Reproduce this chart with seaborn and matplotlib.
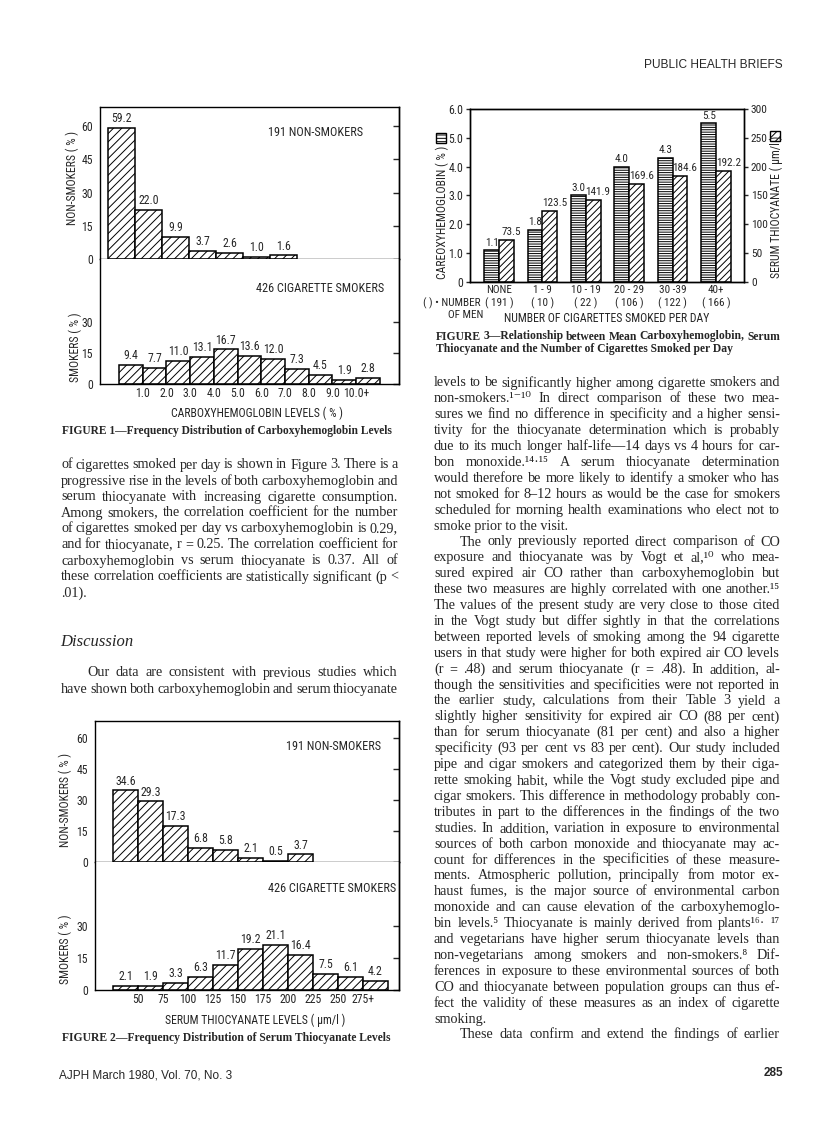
"""
Page 285 of AJPH, March 1980 - Figures 1-3 (COHb and SCN in smokers)
"""

import numpy as np
import pandas as pd
import matplotlib
matplotlib.use('Agg')
import matplotlib.pyplot as plt
from matplotlib import font_manager as fm
from matplotlib.patches import Rectangle
import seaborn as sns

# Figure 1 - carboxyhemoglobin levels (%)
co_bins_ns = ['<1', '1-2', '2-3', '3-4', '4-5', '5-6', '6+']
co_pct_ns = [59.2, 22.0, 9.9, 3.7, 2.6, 1.0, 1.6]
co_edges_ns = ['1.0', '2.0', '3.0', '4.0', '5.0', '6.0+']

co_bins_sm = ['<1', '1-2', '2-3', '3-4', '4-5', '5-6', '6-7', '7-8', '8-9', '9-10', '10+']
co_pct_sm = [9.4, 7.7, 11.0, 13.1, 16.7, 13.6, 12.0, 7.3, 4.5, 1.9, 2.8]
co_edges_sm = ['1.0', '2.0', '3.0', '4.0', '5.0', '6.0', '7.0', '8.0', '9.0', '10.0+']

# Figure 2 - serum thiocyanate levels (um/l)
scn_bins_ns = ['<50', '50-75', '75-100', '100-125', '125-150', '150-175', '175-200', '200-225']
scn_pct_ns = [34.6, 29.3, 17.3, 6.8, 5.8, 2.1, 0.5, 3.7]

scn_bins_sm = ['<50', '50-75', '75-100', '100-125', '125-150', '150-175', '175-200',
               '200-225', '225-250', '250-275', '275+']
scn_pct_sm = [2.1, 1.9, 3.3, 6.3, 11.7, 19.2, 21.1, 16.4, 7.5, 6.1, 4.2]
scn_edges = ['50', '75', '100', '125', '150', '175', '200', '225', '250', '275+']

# Figure 3 - means by cigarettes per day
cig_groups = ['NONE', '1-9', '10-19', '20-29', '30-39', '40+']
cig_ticklabels = ['NONE\n( 191 )', '1 - 9\n( 10 )', '10 - 19\n( 22 )',
                  '20 - 29\n( 106 )', '30 -39\n( 122 )', '40+\n( 166 )']
mean_cohb = [1.1, 1.8, 3.0, 4.0, 4.3, 5.5]
mean_scn = [73.5, 123.5, 141.9, 169.6, 184.6, 192.2]

# body text
left_par1 = [
    "of cigarettes smoked per day is shown in Figure 3. There is a",
    "progressive rise in the levels of both carboxyhemoglobin and",
    "serum thiocyanate with increasing cigarette consumption.",
    "Among smokers, the correlation coefficient for the number",
    "of cigarettes smoked per day vs carboxyhemoglobin is 0.29,",
    "and for thiocyanate, r = 0.25. The correlation coefficient for",
    "carboxyhemoglobin vs serum thiocyanate is 0.37. All of",
    "these correlation coefficients are statistically significant (p <",
    ".01).",
]
left_par2 = [
    "Our data are consistent with previous studies which",
    "have shown both carboxyhemoglobin and serum thiocyanate",
]
right_par1 = [
    "levels to be significantly higher among cigarette smokers and",
    "non-smokers.¹⁻¹⁰ In direct comparison of these two mea-",
    "sures we find no difference in specificity and a higher sensi-",
    "tivity for the thiocyanate determination which is probably",
    "due to its much longer half-life—14 days vs 4 hours for car-",
    "bon monoxide.¹⁴·¹⁵ A serum thiocyanate determination",
    "would therefore be more likely to identify a smoker who has",
    "not smoked for 8–12 hours as would be the case for smokers",
    "scheduled for morning health examinations who elect not to",
    "smoke prior to the visit.",
]
right_par2 = [
    "The only previously reported direct comparison of CO",
    "exposure and thiocyanate was by Vogt et al,¹⁰ who mea-",
    "sured expired air CO rather than carboxyhemoglobin but",
    "these two measures are highly correlated with one another.¹⁵",
    "The values of the present study are very close to those cited",
    "in the Vogt study but differ sightly in that the correlations",
    "between reported levels of smoking among the 94 cigarette",
    "users in that study were higher for both expired air CO levels",
    "(r = .48) and serum thiocyanate (r = .48). In addition, al-",
    "though the sensitivities and specificities were not reported in",
    "the earlier study, calculations from their Table 3 yield a",
    "slightly higher sensitivity for expired air CO (88 per cent)",
    "than for serum thiocyanate (81 per cent) and also a higher",
    "specificity (93 per cent vs 83 per cent). Our study included",
    "pipe and cigar smokers and categorized them by their ciga-",
    "rette smoking habit, while the Vogt study excluded pipe and",
    "cigar smokers. This difference in methodology probably con-",
    "tributes in part to the differences in the findings of the two",
    "studies. In addition, variation in exposure to environmental",
    "sources of both carbon monoxide and thiocyanate may ac-",
    "count for differences in the specificities of these measure-",
    "ments. Atmospheric pollution, principally from motor ex-",
    "haust fumes, is the major source of environmental carbon",
    "monoxide and can cause elevation of the carboxyhemoglo-",
    "bin levels.⁵ Thiocyanate is mainly derived from plants¹⁶· ¹⁷",
    "and vegetarians have higher serum thiocyanate levels than",
    "non-vegetarians among smokers and non-smokers.⁸ Dif-",
    "ferences in exposure to these environmental sources of both",
    "CO and thiocyanate between population groups can thus ef-",
    "fect the validity of these measures as an index of cigarette",
    "smoking.",
]
right_par3 = [
    "These data confirm and extend the findings of earlier",
]


def pick_narrow_font():
    # the figures use a condensed sans; take whatever narrow face is installed
    fonts = fm.fontManager.ttflist
    for name in ['Liberation Sans Narrow', 'Roboto Condensed', 'Open Sans Condensed',
                 'Noto Sans Condensed', 'Arial Narrow']:
        if any(f.name == name for f in fonts):
            return name, 'normal'
    for name in ['DejaVu Sans', 'Noto Sans', 'Roboto', 'Open Sans']:
        if any(f.name == name and f.stretch in ('condensed', 'semi-condensed', 'extra-condensed')
               for f in fonts):
            return name, 'condensed'
    return 'Liberation Sans', 'normal'


sns.set_style('white')
narrow, stretch = pick_narrow_font()
CHART = [narrow, 'DejaVu Sans']
SERIF = ['Liberation Serif', 'DejaVu Serif']
SANS = ['Liberation Sans', 'DejaVu Sans']
plt.rcParams['font.family'] = CHART
plt.rcParams['font.stretch'] = stretch
plt.rcParams['axes.linewidth'] = 1.0
plt.rcParams['hatch.linewidth'] = 0.7
plt.rcParams['axes.edgecolor'] = 'black'
FS = 8.5 if stretch == 'condensed' or 'Narrow' in narrow or 'Condensed' in narrow else 7.3

W, H = 816, 1129
fig = plt.figure(figsize=(W / 100, H / 100), dpi=100)
renderer = fig.canvas.get_renderer()


def box(x0, y0, x1, y1):
    # pixel box (top-left origin) -> figure fraction rect
    return [x0 / W, 1 - y1 / H, (x1 - x0) / W, (y1 - y0) / H]


def ftext(x, y, s, **kw):
    return fig.text(x / W, 1 - y / H, s, **kw)


def hist_panel(cats, vals, x0, x1, y_top, y_zero, ppu, bar_left, bar_w,
               yticks, edge_labels, is_top):
    ax = fig.add_axes(box(x0, y_top, x1, y_zero))
    df = pd.DataFrame({'bin': cats, 'pct': vals})
    sns.barplot(data=df, x='bin', y='pct', order=cats, color='white', saturation=1,
                width=1, edgecolor='black', linewidth=1.1, hatch='////', ax=ax)
    ax.bar_label(ax.containers[0], fmt='%.1f', padding=2, fontsize=FS)
    ax.set_ylim(0, (y_zero - y_top) / ppu)
    ax.set_xlim(-0.5 - (bar_left - x0) / bar_w, -0.5 + (x1 - bar_left) / bar_w)
    ax.set_yticks(yticks)
    if edge_labels:
        ax.set_xticks(np.arange(len(edge_labels)) + 0.5, edge_labels)
    else:
        ax.set_xticks([])
    ax.tick_params(axis='x', length=0, pad=2.5, labelsize=FS)
    ax.tick_params(axis='y', direction='out', length=3, width=1, pad=2, labelsize=FS)
    ax.set_xlabel('')
    ax.set_ylabel('')
    ax.spines['top'].set_visible(is_top)
    sec = ax.secondary_yaxis('right')
    sec.set_yticks(yticks)
    sec.tick_params(direction='in', length=4, width=1, labelright=False)
    return ax


def text_line(x0, x1, y, line, justify, **kw):
    words = line.split(' ')
    if not justify or len(words) == 1:
        ftext(x0, y, line, ha='left', va='baseline', **kw)
        return
    objs = [ftext(x0, y, w, ha='left', va='baseline', **kw) for w in words]
    widths = [o.get_window_extent(renderer).width for o in objs]
    gap = (x1 - x0 - sum(widths)) / (len(words) - 1)
    x = x0
    for o, w in zip(objs, widths):
        o.set_x(x / W)
        x += w + gap


def paragraph(lines, x0, x1, y, step, indent=0, last_open=False, **kw):
    for i, line in enumerate(lines):
        start = x0 + (indent if i == 0 else 0)
        justify = last_open or i < len(lines) - 1
        text_line(start, x1, y + i * step, line, justify, **kw)
    return y + len(lines) * step


# ---- Figure 1 ----
hist_panel(co_bins_ns, co_pct_ns, 100, 399, 107, 259, 133 / 60, 108, 27,
           [0, 15, 30, 45, 60], co_edges_ns, True)
hist_panel(co_bins_sm, co_pct_sm, 100, 399, 259, 384, 62 / 30, 119, 23.7,
           [0, 15, 30], co_edges_sm, False)
ftext(316, 132, '191 NON-SMOKERS', ha='center', va='center', fontsize=FS + 0.3)
ftext(320, 288, '426 CIGARETTE SMOKERS', ha='center', va='center', fontsize=FS + 0.3)
ftext(72, 178, 'NON-SMOKERS ( % )', ha='center', va='center', rotation=90, fontsize=FS)
ftext(75, 347, 'SMOKERS ( % )', ha='center', va='center', rotation=90, fontsize=FS)
ftext(257, 413, 'CARBOXYHEMOGLOBIN LEVELS ( % )', ha='center', va='center', fontsize=FS)
ftext(62, 434, 'FIGURE 1—Frequency Distribution of Carboxyhemoglobin Levels',
      ha='left', va='baseline', fontsize=8.3, fontweight='bold', family=SERIF)

# ---- Figure 2 ----
hist_panel(scn_bins_ns, scn_pct_ns, 95, 399, 721, 862, 124 / 60, 113, 25,
           [0, 15, 30, 45, 60], None, True)
hist_panel(scn_bins_sm, scn_pct_sm, 95, 399, 862, 990, 64 / 30, 113, 25,
           [0, 15, 30], scn_edges, False)
ftext(334, 746, '191 NON-SMOKERS', ha='center', va='center', fontsize=FS + 0.3)
ftext(332, 888, '426 CIGARETTE SMOKERS', ha='center', va='center', fontsize=FS + 0.3)
ftext(65, 800, 'NON-SMOKERS ( % )', ha='center', va='center', rotation=90, fontsize=FS)
ftext(65, 949, 'SMOKERS ( % )', ha='center', va='center', rotation=90, fontsize=FS)
ftext(255, 1020, 'SERUM THIOCYANATE LEVELS ( µm/l )', ha='center', va='center', fontsize=FS)
ftext(62, 1041, 'FIGURE 2—Frequency Distribution of Serum Thiocyanate Levels',
      ha='left', va='baseline', fontsize=8.35, fontweight='bold', family=SERIF)

# ---- Figure 3 ----
# both series drawn dodged on each axis; each axis keeps only its own series
df3 = pd.DataFrame({'cigs': cig_groups * 2,
                    'measure': ['COHb'] * len(cig_groups) + ['SCN'] * len(cig_groups),
                    'value': mean_cohb + mean_scn})
kw = dict(x='cigs', y='value', hue='measure', hue_order=['COHb', 'SCN'], order=cig_groups,
          palette={'COHb': 'white', 'SCN': 'white'}, width=0.68, saturation=1,
          edgecolor='black', linewidth=1.1, legend=False)
ax3 = fig.add_axes(box(470, 109, 744, 282))
sns.barplot(data=df3, ax=ax3, **kw)
ax3b = ax3.twinx()
sns.barplot(data=df3, ax=ax3b, **kw)
for bar in ax3.containers[1]:
    bar.remove()
for bar in ax3b.containers[0]:
    bar.remove()
for bar in ax3.containers[0]:
    bar.set_hatch('-------')
for bar in ax3b.containers[1]:
    bar.set_hatch('/////')
ax3.bar_label(ax3.containers[0], fmt='%.1f', padding=2, fontsize=FS - 0.5)
scn_labels = ax3b.bar_label(ax3b.containers[1], fmt='%.1f', padding=2, fontsize=FS - 0.5)
for lab in scn_labels:
    # thiocyanate values sit a little to the right, as in the print
    lab.xyann = (3.5, lab.xyann[1])
ax3.set_ylim(0, 6)
ax3b.set_ylim(0, 300)
ax3.set_xlim(-0.668, 5.645)
ax3.set_yticks(np.arange(0, 7), ['0', '1.0', '2.0', '3.0', '4.0', '5.0', '6.0'])
ax3b.set_yticks(np.arange(0, 301, 50))
ax3.set_xticks(range(len(cig_groups)), cig_ticklabels)
ax3.tick_params(axis='x', length=0, pad=2.5, labelsize=FS - 0.5)
ax3.tick_params(axis='y', direction='out', length=3, width=1, pad=2, labelsize=FS)
ax3b.tick_params(axis='y', direction='out', length=3, width=1, pad=2, labelsize=FS - 0.3)
for a in (ax3, ax3b):
    a.set_xlabel('')
    a.set_ylabel('')
ftext(442, 212, 'CAREOXYHEMOGLOBIN ( % )', ha='center', va='center', rotation=90, fontsize=FS)
ftext(776, 207, 'SERUM THIOCYANATE ( µm/l )', ha='center', va='center', rotation=90, fontsize=FS)
fig.add_artist(Rectangle((436 / W, 1 - 143 / H), 10 / W, 10 / H, transform=fig.transFigure,
                         facecolor='white', edgecolor='black', lw=1, hatch='-----'))
fig.add_artist(Rectangle((770 / W, 1 - 141 / H), 10 / W, 10 / H, transform=fig.transFigure,
                         facecolor='white', edgecolor='black', lw=1, hatch='////'))
ftext(481, 303, '( ) • NUMBER', ha='right', va='center', fontsize=FS - 0.5)
ftext(466, 315, 'OF MEN', ha='center', va='center', fontsize=FS - 0.5)
ftext(607, 319, 'NUMBER OF CIGARETTES SMOKED PER DAY', ha='center', va='center', fontsize=FS)
text_line(436, 780, 339.5, 'FIGURE 3—Relationship between Mean Carboxyhemoglobin, Serum', True,
          fontsize=8.35, fontweight='bold', family=SERIF)
text_line(436, 780, 352, 'Thiocyanate and the Number of Cigarettes Smoked per Day', False,
          fontsize=8.35, fontweight='bold', family=SERIF)

# ---- running text ----
body = dict(fontsize=10.2, family=SERIF)
paragraph(left_par1, 61, 398, 468.5, 16, **body)
ftext(60, 646, 'Discussion', ha='left', va='baseline', fontsize=12, style='italic', family=SERIF)
paragraph(left_par2, 61, 398, 676.5, 16.5, indent=26, last_open=True, **body)

y = paragraph(right_par1, 434, 780, 386.5, 15.9, **body)
y = paragraph(right_par2, 434, 780, y, 15.9, indent=26, **body)
paragraph(right_par3, 434, 780, y, 15.9, indent=26, last_open=True, **body)

# ---- page furniture ----
ftext(783, 65, 'PUBLIC HEALTH BRIEFS', ha='right', va='center', fontsize=8.6, family=SANS)
ftext(59, 1075, 'AJPH March 1980, Vol. 70, No. 3', ha='left', va='center', fontsize=8.5, family=SANS)
ftext(783, 1073, '285', ha='right', va='center', fontsize=8.5, fontweight='bold', family=SANS)

fig.savefig('out.png', dpi=100)
plt.close(fig)
